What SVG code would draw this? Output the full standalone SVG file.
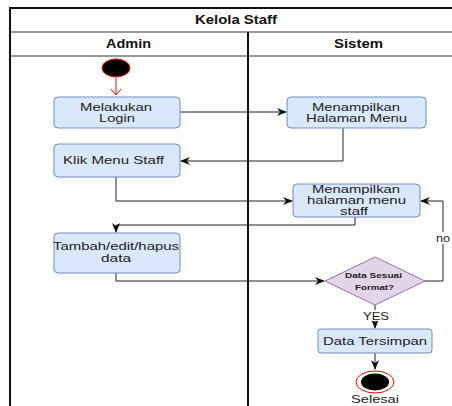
<svg xmlns="http://www.w3.org/2000/svg" width="452" height="406" viewBox="0 0 452 406">
<defs>
<style>
.t{font-family:"Liberation Sans",Arial,sans-serif;font-size:11px;fill:#222;text-anchor:middle}
.h{font-family:"Liberation Sans",Arial,sans-serif;font-size:12px;font-weight:bold;fill:#111;text-anchor:middle}
.s{font-family:"Liberation Sans",Arial,sans-serif;font-size:7.5px;font-weight:bold;fill:#222;text-anchor:middle}
.box{fill:#dae8fc;stroke:#6c8ebf;stroke-width:1}
.ln{fill:none;stroke:#222;stroke-width:1}
</style>
<marker id="ar" markerWidth="10" markerHeight="8" refX="9" refY="4" orient="auto" markerUnits="userSpaceOnUse">
<path d="M0,0 L10,4 L0,8 L3,4 Z" fill="#111"/>
</marker>
</defs>
<rect width="452" height="406" fill="#fff"/>
<g id="frame">
<path d="M10,406 V8 H452" fill="none" stroke="#111" stroke-width="2"/>
<line x1="10" y1="32" x2="452" y2="32" stroke="#333" stroke-width="1.2"/>
<line x1="10" y1="56" x2="452" y2="56" stroke="#333" stroke-width="1.2"/>
<line x1="248" y1="32" x2="248" y2="406" stroke="#111" stroke-width="2"/>
<text class="h" x="236" y="24" textLength="82" lengthAdjust="spacingAndGlyphs">Kelola Staff</text>
<text class="h" x="128.5" y="48" textLength="45" lengthAdjust="spacingAndGlyphs">Admin</text>
<text class="h" x="358.5" y="48" textLength="49" lengthAdjust="spacingAndGlyphs">Sistem</text>
</g>
<g id="connectors">
<path d="M116,78 V95" fill="none" stroke="#ff0000" stroke-width="1"/>
<path d="M111,89 L116,95 L121,89" fill="none" stroke="#ff0000" stroke-width="1"/>
<path class="ln" d="M180,112 H286" marker-end="url(#ar)"/>
<path class="ln" d="M343,128 V161 H181" marker-end="url(#ar)"/>
<path class="ln" d="M116,177 V201 H292" marker-end="url(#ar)"/>
<path class="ln" d="M355,217 V225 H116 V232" marker-end="url(#ar)"/>
<path class="ln" d="M116,273 V281 H324" marker-end="url(#ar)"/>
<path class="ln" d="M425,281 H443 V201 H421" marker-end="url(#ar)"/>
<rect x="436" y="232" width="16" height="12" fill="#fff"/>
<text class="t" x="443" y="242" textLength="14" lengthAdjust="spacingAndGlyphs">no</text>
<path class="ln" d="M375,305 V328" marker-end="url(#ar)"/>
<rect x="361" y="310" width="30" height="11" fill="#fff"/>
<text class="t" x="376" y="320" textLength="26" lengthAdjust="spacingAndGlyphs">YES</text>
<path class="ln" d="M375,353 V369" marker-end="url(#ar)"/>
</g>
<g id="start">
<ellipse cx="116" cy="68" rx="14" ry="9" fill="#000" stroke="#ff0000" stroke-width="1"/>
</g>
<g id="login">
<rect class="box" x="54" y="97" width="126" height="31" rx="4"/>
<text class="t" x="116" y="111" textLength="72" lengthAdjust="spacingAndGlyphs">Melakukan</text>
<text class="t" x="117" y="122" textLength="36" lengthAdjust="spacingAndGlyphs">Login</text>
</g>
<g id="menu">
<rect class="box" x="287" y="97" width="139" height="31" rx="4"/>
<text class="t" x="356" y="111" textLength="88" lengthAdjust="spacingAndGlyphs">Menampilkan</text>
<text class="t" x="356.5" y="122" textLength="101" lengthAdjust="spacingAndGlyphs">Halaman Menu</text>
</g>
<g id="klik">
<rect class="box" x="54" y="144" width="126" height="33" rx="4"/>
<text class="t" x="113.5" y="164" textLength="101" lengthAdjust="spacingAndGlyphs">Klik Menu Staff</text>
</g>
<g id="menustaff">
<rect class="box" x="293" y="184" width="127" height="33" rx="4"/>
<text class="t" x="356" y="193" textLength="88" lengthAdjust="spacingAndGlyphs">Menampilkan</text>
<text class="t" x="356.5" y="204" textLength="99" lengthAdjust="spacingAndGlyphs">halaman menu</text>
<text class="t" x="354" y="215" textLength="28" lengthAdjust="spacingAndGlyphs">staff</text>
</g>
<g id="tambah">
<rect class="box" x="54" y="233" width="126" height="40" rx="4"/>
<text class="t" x="116" y="250" textLength="126" lengthAdjust="spacingAndGlyphs">Tambah/edit/hapus</text>
<text class="t" x="116" y="262" textLength="30" lengthAdjust="spacingAndGlyphs">data</text>
</g>
<g id="decision">
<polygon points="375,257 425,281 375,305 325,281" fill="#e1d5e7" stroke="#9673a6" stroke-width="1"/>
<text class="s" x="373.5" y="278" textLength="57" lengthAdjust="spacingAndGlyphs">Data Sesuai</text>
<text class="s" x="374.5" y="290" textLength="39" lengthAdjust="spacingAndGlyphs">Format?</text>
</g>
<g id="tersimpan">
<rect class="box" x="318" y="329" width="114" height="24" rx="3"/>
<text class="t" x="375" y="345" textLength="104" lengthAdjust="spacingAndGlyphs">Data Tersimpan</text>
</g>
<g id="end">
<ellipse cx="375" cy="382" rx="19" ry="11" fill="#fff" stroke="#ff0000" stroke-width="1"/>
<ellipse cx="375" cy="382" rx="14" ry="8.5" fill="#000"/>
<text class="t" x="375" y="403" textLength="48" lengthAdjust="spacingAndGlyphs">Selesai</text>
</g>
</svg>
